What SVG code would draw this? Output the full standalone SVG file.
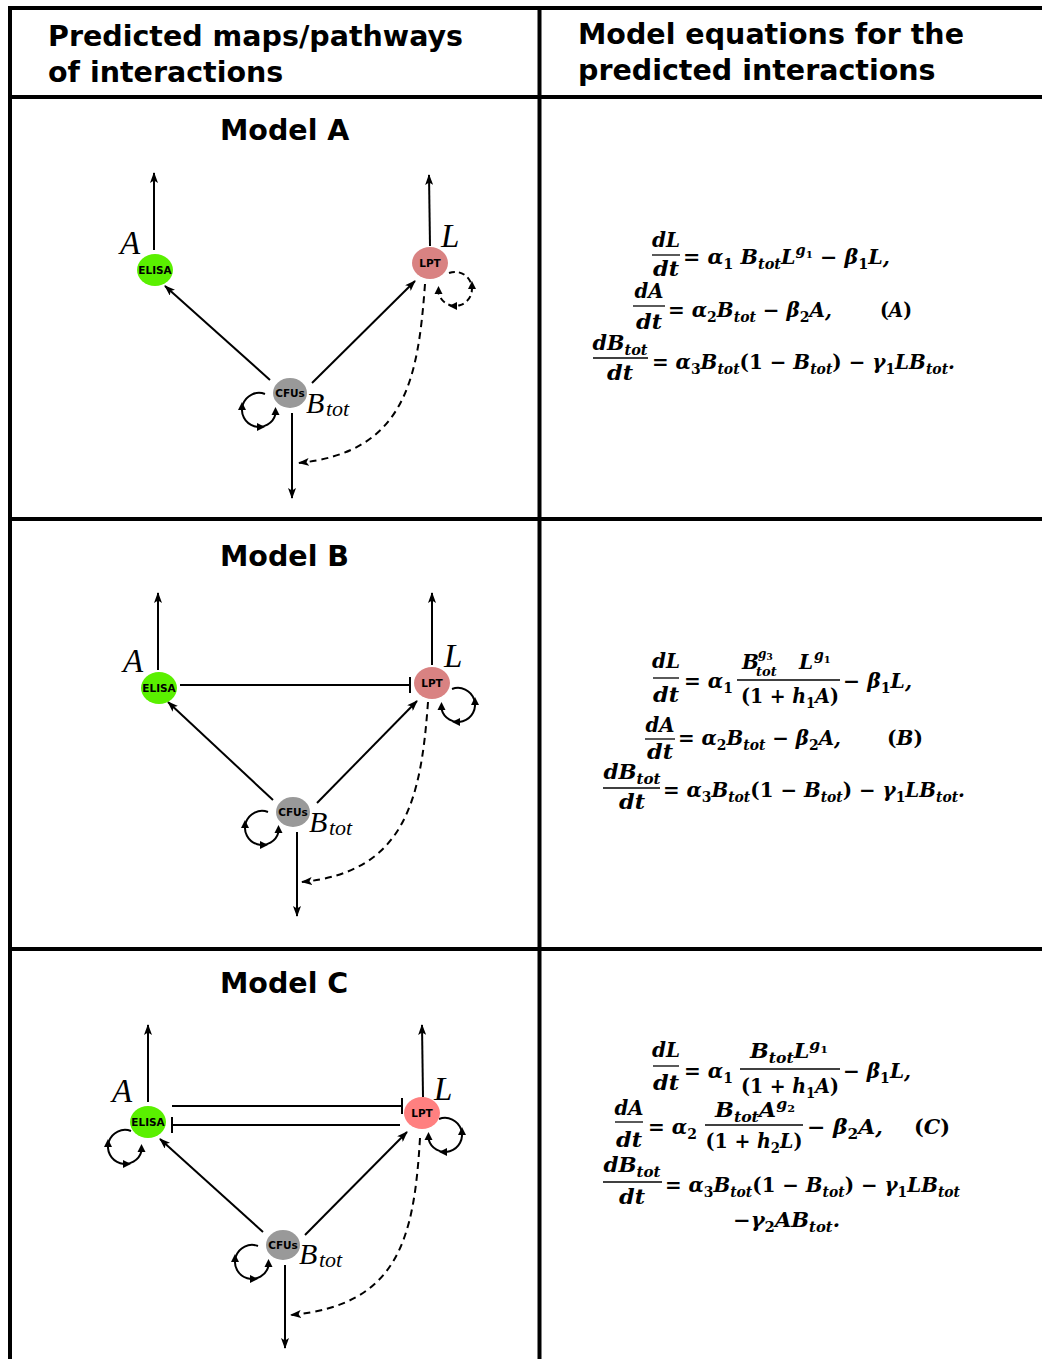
<svg xmlns="http://www.w3.org/2000/svg" width="1042" height="1359" viewBox="0 0 1042 1359">
<style>
.t{fill:none;stroke:#000;stroke-width:4}
.hd{font-family:"DejaVu Sans",sans-serif;font-weight:bold;font-size:28.5px}
.e{stroke:#000;stroke-width:2;fill:none}
.ar{marker-end:url(#ah)}
.ds{stroke-dasharray:7 5}
.nl{font-family:"DejaVu Sans",sans-serif;font-weight:bold;font-size:10.5px;text-anchor:middle}
.lb{font-family:"Liberation Serif",serif;font-style:italic;font-size:33px}
.sb{font-family:"Liberation Serif",serif;font-style:italic;font-size:22px}
.eq{font-family:"DejaVu Serif",serif;font-weight:bold;font-style:italic;font-size:20px}
.s{font-size:14px}
.ss{font-size:10px}
.u{font-style:normal}
.fb{stroke:#000;stroke-width:1.3}
.green{fill:#5af000}
.pink{fill:#d98282}
.red{fill:#ff8080}
.gray{fill:#999}
</style>
<defs>
<marker id="ah" viewBox="0 0 11 8" refX="10" refY="4" markerWidth="11" markerHeight="8" markerUnits="userSpaceOnUse" orient="auto"><path d="M0,0 L11,4 L0,8 L2.5,4 z"/></marker>
<g id="loop">
<path d="M6,-16 A17,17 0 1 0 16.5,4" fill="none" stroke="#000" stroke-width="2"/>
<polygon points="-17,-8 -21,0 -13,0"/>
<polygon points="6,17 -2,13 -2,21"/>
<polygon points="16.5,-3 12.5,5 20.5,5"/>
</g>
<g id="dloop">
<path d="M6,-16 A17,17 0 1 0 16.5,4" fill="none" stroke="#000" stroke-width="2" stroke-dasharray="6 4"/>
<polygon points="-17,-8 -21,0 -13,0"/>
<polygon points="6,17 -2,13 -2,21"/>
<polygon points="16.5,-3 12.5,5 20.5,5"/>
</g>
</defs>
<rect width="1042" height="1359" fill="#fff"/>

<g id="table">
<line class="t" x1="8" y1="8" x2="1042" y2="8"/>
<line class="t" x1="10" y1="6" x2="10" y2="1359"/>
<line class="t" x1="539.5" y1="8" x2="539.5" y2="1359"/>
<line class="t" x1="8" y1="97" x2="1042" y2="97"/>
<line class="t" x1="8" y1="519" x2="1042" y2="519"/>
<line class="t" x1="8" y1="949" x2="1042" y2="949"/>
</g>

<g id="headers">
<text class="hd" x="48" y="46">Predicted maps/pathways</text>
<text class="hd" x="48" y="82">of interactions</text>
<text class="hd" x="578" y="44">Model equations for the</text>
<text class="hd" x="578" y="80">predicted interactions</text>
<text class="hd" x="220" y="140">Model A</text>
<text class="hd" x="220" y="566">Model B</text>
<text class="hd" x="220" y="993">Model C</text>
</g>

<g id="connectors">
<!-- Model A -->
<line class="e ar" x1="154" y1="250" x2="154" y2="173"/>
<line class="e ar" x1="430" y1="246" x2="429" y2="175"/>
<line class="e ar" x1="270" y1="380" x2="165" y2="286"/>
<line class="e ar" x1="312" y1="383" x2="415" y2="281"/>
<line class="e ar" x1="292" y1="413" x2="292" y2="498"/>
<path class="e ar ds" d="M425,284 C418,380 405,452 299,463"/>
<use href="#dloop" transform="translate(455,289) scale(-1,1)"/>
<use href="#loop" transform="translate(259,410)"/>
<!-- Model B -->
<line class="e ar" x1="158" y1="670" x2="158" y2="593"/>
<line class="e ar" x1="432" y1="665" x2="432" y2="593"/>
<line class="e" x1="180" y1="685" x2="410" y2="685"/>
<line class="e" x1="410" y1="677" x2="410" y2="693"/>
<line class="e ar" x1="273" y1="800" x2="168" y2="702"/>
<line class="e ar" x1="317" y1="803" x2="417" y2="701"/>
<line class="e ar" x1="297" y1="832" x2="297" y2="916"/>
<path class="e ar ds" d="M428,702 C421,800 405,872 302,882"/>
<use href="#loop" transform="translate(458,705) scale(-1,1)"/>
<use href="#loop" transform="translate(262,828)"/>
<!-- Model C -->
<line class="e ar" x1="148" y1="1102" x2="148" y2="1025"/>
<line class="e ar" x1="423" y1="1097" x2="422" y2="1025"/>
<line class="e" x1="172" y1="1106" x2="402" y2="1106"/>
<line class="e" x1="402" y1="1098" x2="402" y2="1114"/>
<line class="e" x1="400" y1="1125" x2="172" y2="1125"/>
<line class="e" x1="172" y1="1117" x2="172" y2="1133"/>
<line class="e ar" x1="263" y1="1232" x2="160" y2="1139"/>
<line class="e ar" x1="305" y1="1235" x2="407" y2="1132"/>
<line class="e ar" x1="285" y1="1265" x2="285" y2="1348"/>
<path class="e ar ds" d="M420,1138 C414,1240 398,1305 291,1315"/>
<use href="#loop" transform="translate(125,1147)"/>
<use href="#loop" transform="translate(445,1135) scale(-1,1)"/>
<use href="#loop" transform="translate(252,1262)"/>
</g>

<g id="modelA-ELISA"><ellipse class="green" cx="155" cy="270" rx="18" ry="16"/><text class="nl" x="155" y="274">ELISA</text><text class="lb" x="120" y="254">A</text></g>
<g id="modelA-LPT"><ellipse class="pink" cx="430" cy="263" rx="18" ry="16"/><text class="nl" x="430" y="267">LPT</text><text class="lb" x="441" y="247">L</text></g>
<g id="modelA-CFUs"><ellipse class="gray" cx="290" cy="393" rx="17" ry="15"/><text class="nl" x="290" y="397">CFUs</text><text class="lb" x="306" y="413" style="font-size:30px">B</text><text class="sb" x="326" y="416">tot</text></g>

<g id="modelB-ELISA"><ellipse class="green" cx="159" cy="688" rx="18" ry="16"/><text class="nl" x="159" y="692">ELISA</text><text class="lb" x="123" y="672">A</text></g>
<g id="modelB-LPT"><ellipse class="pink" cx="432" cy="683" rx="18" ry="16"/><text class="nl" x="432" y="687">LPT</text><text class="lb" x="444" y="667">L</text></g>
<g id="modelB-CFUs"><ellipse class="gray" cx="293" cy="812" rx="17" ry="15"/><text class="nl" x="293" y="816">CFUs</text><text class="lb" x="309" y="832" style="font-size:30px">B</text><text class="sb" x="329" y="835">tot</text></g>

<g id="modelC-ELISA"><ellipse class="green" cx="148" cy="1122" rx="18" ry="16"/><text class="nl" x="148" y="1126">ELISA</text><text class="lb" x="112" y="1102">A</text></g>
<g id="modelC-LPT"><ellipse class="red" cx="422" cy="1113" rx="18" ry="16"/><text class="nl" x="422" y="1117">LPT</text><text class="lb" x="434" y="1100">L</text></g>
<g id="modelC-CFUs"><ellipse class="gray" cx="283" cy="1245" rx="17" ry="15"/><text class="nl" x="283" y="1249">CFUs</text><text class="lb" x="299" y="1264" style="font-size:30px">B</text><text class="sb" x="319" y="1267">tot</text></g>

<g id="equations-A">
<text class="eq" x="666" y="247" text-anchor="middle" textLength="28" lengthAdjust="spacingAndGlyphs">dL</text>
<line class="fb" x1="652" y1="255" x2="680" y2="255"/>
<text class="eq" x="666" y="276" text-anchor="middle" textLength="26" lengthAdjust="spacingAndGlyphs">dt</text>
<text class="eq" x="683" y="264" textLength="207" lengthAdjust="spacingAndGlyphs"><tspan class="u">= </tspan>α<tspan class="s u" dy="5">1</tspan><tspan dy="-5"> B</tspan><tspan class="s" dy="5">tot</tspan><tspan dy="-5">L</tspan><tspan class="s" dy="-9">g</tspan><tspan class="ss u" dy="3">1</tspan><tspan class="u" dy="6">  − </tspan>β<tspan class="s u" dy="5">1</tspan><tspan dy="-5">L,</tspan></text>
<text class="eq" x="649" y="298" text-anchor="middle" textLength="29" lengthAdjust="spacingAndGlyphs">dA</text>
<line class="fb" x1="633" y1="306" x2="665" y2="306"/>
<text class="eq" x="649" y="329" text-anchor="middle" textLength="26" lengthAdjust="spacingAndGlyphs">dt</text>
<text class="eq" x="668" y="317" textLength="164" lengthAdjust="spacingAndGlyphs"><tspan class="u">= </tspan>α<tspan class="s u" dy="5">2</tspan><tspan dy="-5">B</tspan><tspan class="s" dy="5">tot</tspan><tspan class="u" dy="-5"> − </tspan>β<tspan class="s u" dy="5">2</tspan><tspan dy="-5">A,</tspan></text>
<text class="eq" x="880" y="317" textLength="32" lengthAdjust="spacingAndGlyphs"><tspan class="u">(</tspan>A<tspan class="u">)</tspan></text>
<text class="eq" x="620" y="350" text-anchor="middle" textLength="55" lengthAdjust="spacingAndGlyphs">dB<tspan class="s" dy="5">tot</tspan></text>
<line class="fb" x1="593" y1="358" x2="648" y2="358"/>
<text class="eq" x="620" y="380" text-anchor="middle" textLength="26" lengthAdjust="spacingAndGlyphs">dt</text>
<text class="eq" x="652" y="369" textLength="303" lengthAdjust="spacingAndGlyphs"><tspan class="u">= </tspan>α<tspan class="s u" dy="5">3</tspan><tspan dy="-5">B</tspan><tspan class="s" dy="5">tot</tspan><tspan class="u" dy="-5">(1 − </tspan>B<tspan class="s" dy="5">tot</tspan><tspan class="u" dy="-5">) − </tspan>γ<tspan class="s u" dy="5">1</tspan><tspan dy="-5">LB</tspan><tspan class="s" dy="5">tot</tspan><tspan dy="-5">.</tspan></text>
</g>

<g id="equations-B">
<text class="eq" x="666" y="668" text-anchor="middle" textLength="28" lengthAdjust="spacingAndGlyphs">dL</text>
<line class="fb" x1="653" y1="678" x2="679" y2="678"/>
<text class="eq" x="666" y="702" text-anchor="middle" textLength="26" lengthAdjust="spacingAndGlyphs">dt</text>
<text class="eq" x="684" y="688"><tspan class="u">= </tspan>α<tspan class="s u" dy="5">1</tspan></text>
<text class="eq" x="742" y="669">B</text>
<text class="eq" x="758" y="658" style="font-size:12px">g<tspan class="u" style="font-size:9px" dy="2">3</tspan></text>
<text class="eq" x="756" y="676" style="font-size:13px">tot</text>
<text class="eq" x="799" y="669">L</text>
<text class="eq s" x="814" y="660">g<tspan class="ss u" dy="3">1</tspan></text>
<line class="fb" x1="737" y1="680" x2="840" y2="680"/>
<text class="eq" x="790" y="703" text-anchor="middle" textLength="98" lengthAdjust="spacingAndGlyphs"><tspan class="u">(1 + </tspan>h<tspan class="s u" dy="5">1</tspan><tspan dy="-5">A</tspan><tspan class="u">)</tspan></text>
<text class="eq" x="843" y="688" textLength="69" lengthAdjust="spacingAndGlyphs"><tspan class="u">− </tspan>β<tspan class="s u" dy="5">1</tspan><tspan dy="-5">L,</tspan></text>
<text class="eq" x="660" y="732" text-anchor="middle" textLength="29" lengthAdjust="spacingAndGlyphs">dA</text>
<line class="fb" x1="645" y1="739" x2="675" y2="739"/>
<text class="eq" x="660" y="759" text-anchor="middle" textLength="26" lengthAdjust="spacingAndGlyphs">dt</text>
<text class="eq" x="678" y="745" textLength="163" lengthAdjust="spacingAndGlyphs"><tspan class="u">= </tspan>α<tspan class="s u" dy="5">2</tspan><tspan dy="-5">B</tspan><tspan class="s" dy="5">tot</tspan><tspan class="u" dy="-5"> − </tspan>β<tspan class="s u" dy="5">2</tspan><tspan dy="-5">A,</tspan></text>
<text class="eq" x="887" y="745" textLength="36" lengthAdjust="spacingAndGlyphs"><tspan class="u">(</tspan>B<tspan class="u">)</tspan></text>
<text class="eq" x="632" y="779" text-anchor="middle" textLength="57" lengthAdjust="spacingAndGlyphs">dB<tspan class="s" dy="5">tot</tspan></text>
<line class="fb" x1="603" y1="788" x2="660" y2="788"/>
<text class="eq" x="632" y="809" text-anchor="middle" textLength="26" lengthAdjust="spacingAndGlyphs">dt</text>
<text class="eq" x="663" y="797" textLength="302" lengthAdjust="spacingAndGlyphs"><tspan class="u">= </tspan>α<tspan class="s u" dy="5">3</tspan><tspan dy="-5">B</tspan><tspan class="s" dy="5">tot</tspan><tspan class="u" dy="-5">(1 − </tspan>B<tspan class="s" dy="5">tot</tspan><tspan class="u" dy="-5">) − </tspan>γ<tspan class="s u" dy="5">1</tspan><tspan dy="-5">LB</tspan><tspan class="s" dy="5">tot</tspan><tspan dy="-5">.</tspan></text>
</g>

<g id="equations-C">
<text class="eq" x="666" y="1057" text-anchor="middle" textLength="28" lengthAdjust="spacingAndGlyphs">dL</text>
<line class="fb" x1="653" y1="1066" x2="679" y2="1066"/>
<text class="eq" x="666" y="1090" text-anchor="middle" textLength="26" lengthAdjust="spacingAndGlyphs">dt</text>
<text class="eq" x="684" y="1078"><tspan class="u">= </tspan>α<tspan class="s u" dy="5">1</tspan></text>
<text class="eq" x="789" y="1058" text-anchor="middle" textLength="78" lengthAdjust="spacingAndGlyphs">B<tspan class="s" dy="5">tot</tspan><tspan dy="-5">L</tspan><tspan class="s" dy="-8">g</tspan><tspan class="ss u" dy="3">1</tspan></text>
<line class="fb" x1="740" y1="1069" x2="840" y2="1069"/>
<text class="eq" x="790" y="1093" text-anchor="middle" textLength="98" lengthAdjust="spacingAndGlyphs"><tspan class="u">(1 + </tspan>h<tspan class="s u" dy="5">1</tspan><tspan dy="-5">A</tspan><tspan class="u">)</tspan></text>
<text class="eq" x="843" y="1078" textLength="68" lengthAdjust="spacingAndGlyphs"><tspan class="u">− </tspan>β<tspan class="s u" dy="5">1</tspan><tspan dy="-5">L,</tspan></text>
<text class="eq" x="629" y="1115" text-anchor="middle" textLength="29" lengthAdjust="spacingAndGlyphs">dA</text>
<line class="fb" x1="615" y1="1122" x2="643" y2="1122"/>
<text class="eq" x="629" y="1147" text-anchor="middle" textLength="26" lengthAdjust="spacingAndGlyphs">dt</text>
<text class="eq" x="648" y="1134"><tspan class="u">= </tspan>α<tspan class="s u" dy="5">2</tspan></text>
<text class="eq" x="755" y="1117" text-anchor="middle" textLength="80" lengthAdjust="spacingAndGlyphs">B<tspan class="s" dy="5">tot</tspan><tspan dy="-5">A</tspan><tspan class="s" dy="-8">g</tspan><tspan class="ss u" dy="3">2</tspan></text>
<line class="fb" x1="705" y1="1125" x2="803" y2="1125"/>
<text class="eq" x="754" y="1148" text-anchor="middle" textLength="97" lengthAdjust="spacingAndGlyphs"><tspan class="u">(1 + </tspan>h<tspan class="s u" dy="5">2</tspan><tspan dy="-5">L</tspan><tspan class="u">)</tspan></text>
<text class="eq" x="807" y="1134" textLength="76" lengthAdjust="spacingAndGlyphs"><tspan class="u">− </tspan>β<tspan class="s u" dy="5">2</tspan><tspan dy="-5">A,</tspan></text>
<text class="eq" x="914" y="1134" textLength="36" lengthAdjust="spacingAndGlyphs"><tspan class="u">(</tspan>C<tspan class="u">)</tspan></text>
<text class="eq" x="632" y="1172" text-anchor="middle" textLength="57" lengthAdjust="spacingAndGlyphs">dB<tspan class="s" dy="5">tot</tspan></text>
<line class="fb" x1="603" y1="1182" x2="662" y2="1182"/>
<text class="eq" x="632" y="1204" text-anchor="middle" textLength="26" lengthAdjust="spacingAndGlyphs">dt</text>
<text class="eq" x="665" y="1192" textLength="295" lengthAdjust="spacingAndGlyphs"><tspan class="u">= </tspan>α<tspan class="s u" dy="5">3</tspan><tspan dy="-5">B</tspan><tspan class="s" dy="5">tot</tspan><tspan class="u" dy="-5">(1 − </tspan>B<tspan class="s" dy="5">tot</tspan><tspan class="u" dy="-5">) − </tspan>γ<tspan class="s u" dy="5">1</tspan><tspan dy="-5">LB</tspan><tspan class="s" dy="5">tot</tspan></text>
<text class="eq" x="733" y="1227" textLength="107" lengthAdjust="spacingAndGlyphs"><tspan class="u">−</tspan>γ<tspan class="s u" dy="5">2</tspan><tspan dy="-5">AB</tspan><tspan class="s" dy="5">tot</tspan><tspan dy="-5">.</tspan></text>
</g>
</svg>
